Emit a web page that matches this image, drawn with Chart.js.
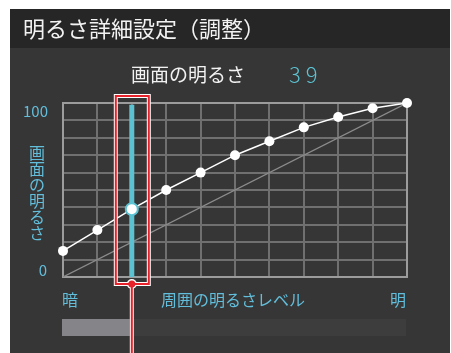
<!DOCTYPE html>
<html lang="ja">
<head>
<meta charset="utf-8">
<title>明るさ詳細設定（調整）</title>
<script src="https://cdn.jsdelivr.net/npm/chart.js@4.4.0/dist/chart.umd.min.js"></script>
<style>
  html, body { margin: 0; padding: 0; background: #fff; }
</style>
</head>
<body>
<canvas id="chart" width="451" height="353"></canvas>
<script>
// 周囲の明るさレベル (0 = 暗, 10 = 明) と 画面の明るさ
const levels = [0, 1, 2, 3, 4, 5, 6, 7, 8, 9, 10];
const brightness = [15, 27, 39, 50, 60, 70, 78, 86, 92, 97, 100];
const currentLevel = 2;
const currentValue = 39;
const yTickLabels = ['0', '100'];
const yAxisTitle = '画面の明るさ';
const xLabels = ['暗', '周囲の明るさレベル', '明'];

const FONT = '"Noto Sans CJK JP", "Noto Sans", sans-serif';
const CYAN = '#5cc2d2';
const TEXT_CYAN = '#62bedb';

const curve = levels.map((l, i) => ({ x: l, y: brightness[i] }));
const current = [{ x: currentLevel, y: brightness[levels.indexOf(currentLevel)] }];

// パネル・文字・枠などの装飾
const panelPlugin = {
    id: 'panel',
    beforeDraw(chart) {
        const ctx = chart.ctx;
        ctx.save();
        ctx.fillStyle = '#ffffff';
        ctx.fillRect(0, 0, chart.width, chart.height);
        ctx.fillStyle = '#363636';
        ctx.fillRect(10, 9, 440, 344);
        ctx.fillStyle = '#272626';
        ctx.fillRect(10, 9, 440, 39);

        ctx.textBaseline = 'middle';
        ctx.fillStyle = '#f2f2f2';
        ctx.font = '22px ' + FONT;
        ctx.fillText('明るさ詳細設定（調整）', 23, 29);

        ctx.font = '19px ' + FONT;
        ctx.fillText('画面の明るさ', 131, 75);
        ctx.fillStyle = CYAN;
        ctx.font = '300 22px ' + FONT;
        ctx.fillText(String(currentValue).split('').join(' '), 289, 75);
        ctx.restore();
    },
    beforeDatasetsDraw(chart) {
        const { ctx, chartArea: a, scales } = chart;
        ctx.save();
        ctx.strokeStyle = '#9c9c9c';
        ctx.lineWidth = 2;
        ctx.strokeRect(a.left, a.top, a.right - a.left, a.bottom - a.top);

        // y 軸ラベル
        ctx.fillStyle = TEXT_CYAN;
        ctx.font = '15px ' + FONT;
        ctx.textAlign = 'right';
        ctx.textBaseline = 'middle';
        ctx.fillText(yTickLabels[1], 48, scales.y.getPixelForValue(100) + 8);
        ctx.fillText(yTickLabels[0], 47, scales.y.getPixelForValue(0) - 7);

        // 縦書きの軸タイトル
        ctx.font = '16px ' + FONT;
        ctx.textAlign = 'center';
        yAxisTitle.split('').forEach((ch, i) => ctx.fillText(ch, 37, 153 + i * 16));

        // x 軸ラベル
        const ly = 300;
        ctx.textAlign = 'left';
        ctx.fillText(xLabels[0], 62, ly);
        ctx.textAlign = 'center';
        ctx.fillText(xLabels[1], 233, ly);
        ctx.textAlign = 'right';
        ctx.fillText(xLabels[2], 406, ly);

        // スライダー
        const cx = scales.x.getPixelForValue(currentLevel);
        ctx.fillStyle = '#3d3d3d';
        ctx.fillRect(62, 319, 344, 17);
        ctx.fillStyle = '#858589';
        ctx.fillRect(62, 319, cx - 2 - 62, 17);
        ctx.restore();
    },
    afterDatasetsDraw(chart) {
        const { ctx, chartArea: a, scales } = chart;
        const cx = scales.x.getPixelForValue(currentLevel);
        const l = cx - 16, r = cx + 17, t = a.top - 7, b = a.bottom + 7;
        ctx.save();
        // 白い縁取り
        ctx.strokeStyle = '#ffffff';
        ctx.lineWidth = 4;
        ctx.strokeRect(l, t, r - l, b - t);
        ctx.beginPath();
        ctx.moveTo(cx, b);
        ctx.lineTo(cx, chart.height);
        ctx.stroke();
        ctx.fillStyle = '#ffffff';
        ctx.beginPath();
        ctx.arc(cx, b, 5, 0, Math.PI * 2);
        ctx.fill();
        // 赤い枠
        ctx.strokeStyle = '#e8222a';
        ctx.lineWidth = 2;
        ctx.strokeRect(l, t, r - l, b - t);
        ctx.beginPath();
        ctx.moveTo(cx, b);
        ctx.lineTo(cx, chart.height);
        ctx.stroke();
        ctx.fillStyle = '#e8222a';
        ctx.beginPath();
        ctx.arc(cx, b, 3.5, 0, Math.PI * 2);
        ctx.fill();
        ctx.restore();
    }
};

new Chart(document.getElementById('chart'), {
    type: 'line',
    data: {
        datasets: [
            {
                data: current,
                order: 0,
                showLine: false,
                pointRadius: 6,
                pointBackgroundColor: '#ffffff',
                pointBorderColor: CYAN,
                pointBorderWidth: 2,
                clip: false
            },
            {
                data: [{ x: currentLevel, y: 0 }, { x: currentLevel, y: 99 }],
                order: 1,
                borderColor: CYAN,
                borderWidth: 5,
                pointRadius: 0,
                borderCapStyle: 'butt'
            },
            {
                data: curve,
                order: 2,
                borderColor: '#ffffff',
                borderWidth: 1.5,
                pointRadius: 5,
                pointBackgroundColor: '#ffffff',
                pointBorderWidth: 0,
                clip: false
            },
            {
                data: [{ x: 0, y: 0 }, { x: 10, y: 100 }],
                order: 3,
                borderColor: '#8c8c8c',
                borderWidth: 1.2,
                pointRadius: 0
            }
        ]
    },
    options: {
        responsive: false,
        animation: false,
        events: [],
        layout: { padding: { left: 63, top: 103, right: 44, bottom: 76 } },
        plugins: {
            legend: { display: false },
            tooltip: { enabled: false }
        },
        scales: {
            x: {
                type: 'linear',
                min: 0,
                max: 10,
                ticks: { display: false, stepSize: 1 },
                grid: { color: '#707070', lineWidth: 2, drawTicks: false },
                border: { display: false }
            },
            y: {
                min: 0,
                max: 100,
                ticks: { display: false, stepSize: 10 },
                grid: { color: '#707070', lineWidth: 2, drawTicks: false },
                border: { display: false }
            }
        }
    },
    plugins: [panelPlugin]
});
</script>
</body>
</html>
